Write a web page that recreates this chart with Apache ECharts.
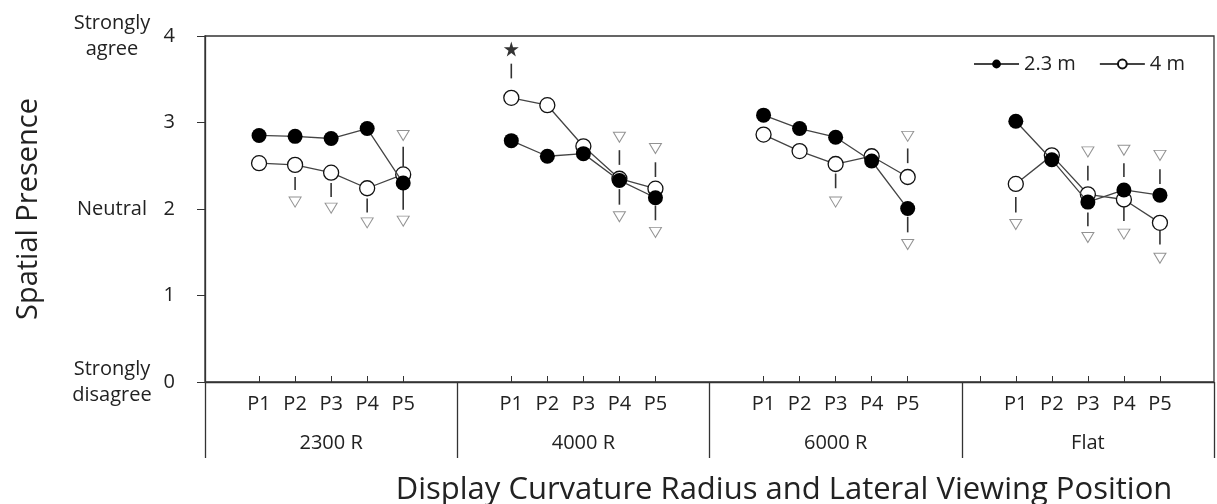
<!DOCTYPE html>
<html>
<head>
<meta charset="utf-8">
<script src="https://cdn.jsdelivr.net/npm/echarts@6/dist/echarts.min.js"></script>
<style>
  html, body { margin: 0; padding: 0; background: #fff; }
  #main { width: 1217px; height: 504px; }
</style>
</head>
<body>
<div id="main"></div>
<script>
// curvature groups and lateral viewing positions
const groups = ["2300 R", "4000 R", "6000 R", "Flat"];
const positions = ["P1", "P2", "P3", "P4", "P5"];

// mean spatial presence, 5 per group (P1..P5)
const near23 = [2.85, 2.84, 2.815, 2.93, 2.30,
                2.79, 2.61, 2.64, 2.33, 2.13,
                3.085, 2.93, 2.83, 2.555, 2.005,
                3.015, 2.57, 2.08, 2.22, 2.16];
const far4 = [2.53, 2.51, 2.42, 2.24, 2.40,
              3.285, 3.20, 2.725, 2.35, 2.235,
              2.86, 2.67, 2.52, 2.61, 2.37,
              2.29, 2.62, 2.17, 2.11, 1.84];

// markers: [position index 0-19, value]
const triMarks = [[1, 2.08], [2, 2.01], [3, 1.84], [4, 2.85], [4, 1.86],
                  [8, 2.83], [8, 1.91], [9, 2.70], [9, 1.73],
                  [12, 2.08], [14, 2.84], [14, 1.59],
                  [15, 1.82], [17, 2.66], [17, 1.67], [18, 2.68], [18, 1.71], [19, 2.62], [19, 1.43]];
const starMarks = [[5, 3.85]];
// short connectors: [position index, from, to]
const dashMarks = [[1, 2.37, 2.22], [2, 2.30, 2.14], [3, 2.12, 1.96], [4, 2.72, 2.49], [4, 2.22, 1.99],
                   [5, 3.68, 3.51],
                   [8, 2.68, 2.51], [8, 2.23, 2.05], [9, 2.54, 2.37], [9, 2.04, 1.87],
                   [12, 2.41, 2.24], [14, 2.70, 2.53], [14, 1.91, 1.73],
                   [15, 2.14, 1.96], [17, 2.50, 2.33], [17, 1.96, 1.80], [18, 2.53, 2.37], [18, 2.02, 1.86],
                   [19, 2.46, 2.29], [19, 1.75, 1.59]];

const sideLabels = { 4: "Strongly\nagree", 2: "Neutral", 0: "Strongly\ndisagree" };

// each group: blank, P1..P5, blank
const slots = [];
groups.forEach(() => { slots.push("", ...positions, ""); });
const slotOf = (i) => Math.floor(i / 5) * 7 + 1 + (i % 5);
const toSlots = (arr) => {
  const out = slots.map(() => null);
  arr.forEach((v, i) => { out[slotOf(i)] = v; });
  return out;
};

const font = "Open Sans";
const ink = "#222";
const line = "#333";

const chart = echarts.init(document.getElementById("main"));
chart.setOption({
  animation: false,
  textStyle: { fontFamily: font, color: ink },
  title: {
    text: "Display Curvature Radius and Lateral Viewing Position",
    left: 779,
    top: 470,
    textAlign: "center",
    textStyle: { fontFamily: font, fontSize: 31, fontWeight: "normal", color: ink },
  },
  legend: {
    data: ["2.3 m", "4 m"],
    right: 27,
    top: 49,
    itemWidth: 45,
    itemHeight: 11,
    itemGap: 23,
    textStyle: { fontFamily: font, fontSize: 20, color: ink },
  },
  grid: {
    left: 205,
    right: 3,
    top: 36,
    bottom: 122,
    show: true,
    borderColor: line,
    borderWidth: 1.3,
  },
  xAxis: [
    {
      type: "category",
      data: slots,
      axisLine: { lineStyle: { color: line, width: 1.3 } },
      axisTick: {
        show: true,
        inside: true,
        length: 6,
        alignWithLabel: true,
        interval: (idx, val) => val !== "" || idx === 21,
        lineStyle: { color: line },
      },
      axisLabel: { interval: 0, margin: 12, fontSize: 20, color: ink, fontFamily: font },
    },
    {
      type: "category",
      data: groups,
      position: "bottom",
      axisLine: { show: false },
      axisTick: { show: true, length: 76, lineStyle: { color: line, width: 1.3 } },
      axisLabel: { margin: 51, fontSize: 20, color: ink, fontFamily: font },
    },
  ],
  yAxis: [
    {
      type: "value",
      min: 0,
      max: 4,
      interval: 1,
      name: "Spatial Presence",
      nameLocation: "middle",
      nameGap: 162,
      nameMoveOverlap: false,
      nameTextStyle: { fontFamily: font, fontSize: 29, color: ink },
      axisLine: { show: true, lineStyle: { color: line, width: 1.3 } },
      axisTick: { show: true, length: 8, lineStyle: { color: line } },
      axisLabel: { fontSize: 20, margin: 30, color: ink, fontFamily: font },
      splitLine: { show: false },
    },
    {
      type: "value",
      min: 0,
      max: 4,
      interval: 1,
      position: "left",
      axisLine: { show: false },
      axisTick: { show: false },
      splitLine: { show: false },
      axisLabel: {
        formatter: (v) => sideLabels[v] || "",
        align: "center",
        margin: 93,
        fontSize: 20,
        lineHeight: 26,
        color: ink,
        fontFamily: font,
      },
    },
  ],
  series: [
    {
      name: "4 m",
      type: "line",
      z: 3,
      data: toSlots(far4),
      symbol: "circle",
      symbolSize: 15,
      itemStyle: { color: "#fff", borderColor: "#111", borderWidth: 1.3 },
      lineStyle: { color: "#444", width: 1.3 },
    },
    {
      name: "2.3 m",
      type: "line",
      z: 4,
      data: toSlots(near23),
      symbol: "circle",
      symbolSize: 15,
      itemStyle: { color: "#000" },
      lineStyle: { color: "#444", width: 1.3 },
    },
    {
      type: "custom",
      z: 2,
      silent: true,
      data: dashMarks.map((d) => [slotOf(d[0]), d[1], d[2]]),
      encode: { x: 0, y: [1, 2] },
      renderItem: (params, api) => {
        const a = api.coord([api.value(0), api.value(1)]);
        const b = api.coord([api.value(0), api.value(2)]);
        return {
          type: "line",
          shape: { x1: a[0], y1: a[1], x2: b[0], y2: b[1] },
          style: { stroke: "#333", lineWidth: 1.6 },
        };
      },
    },
    {
      type: "scatter",
      z: 2,
      silent: true,
      data: triMarks.map((d) => [slotOf(d[0]), d[1]]),
      symbol: "triangle",
      symbolRotate: 180,
      symbolSize: [12, 10],
      itemStyle: { color: "#fff", borderColor: "#777", borderWidth: 1 },
    },
    {
      type: "scatter",
      z: 2,
      silent: true,
      data: starMarks.map((d) => [slotOf(d[0]), d[1]]),
      symbol: "path://M50,0 L61,35 L98,35 L68,57 L79,91 L50,70 L21,91 L32,57 L2,35 L39,35 Z",
      symbolSize: 15,
      itemStyle: { color: "#000" },
    },
  ],
});
</script>
</body>
</html>
